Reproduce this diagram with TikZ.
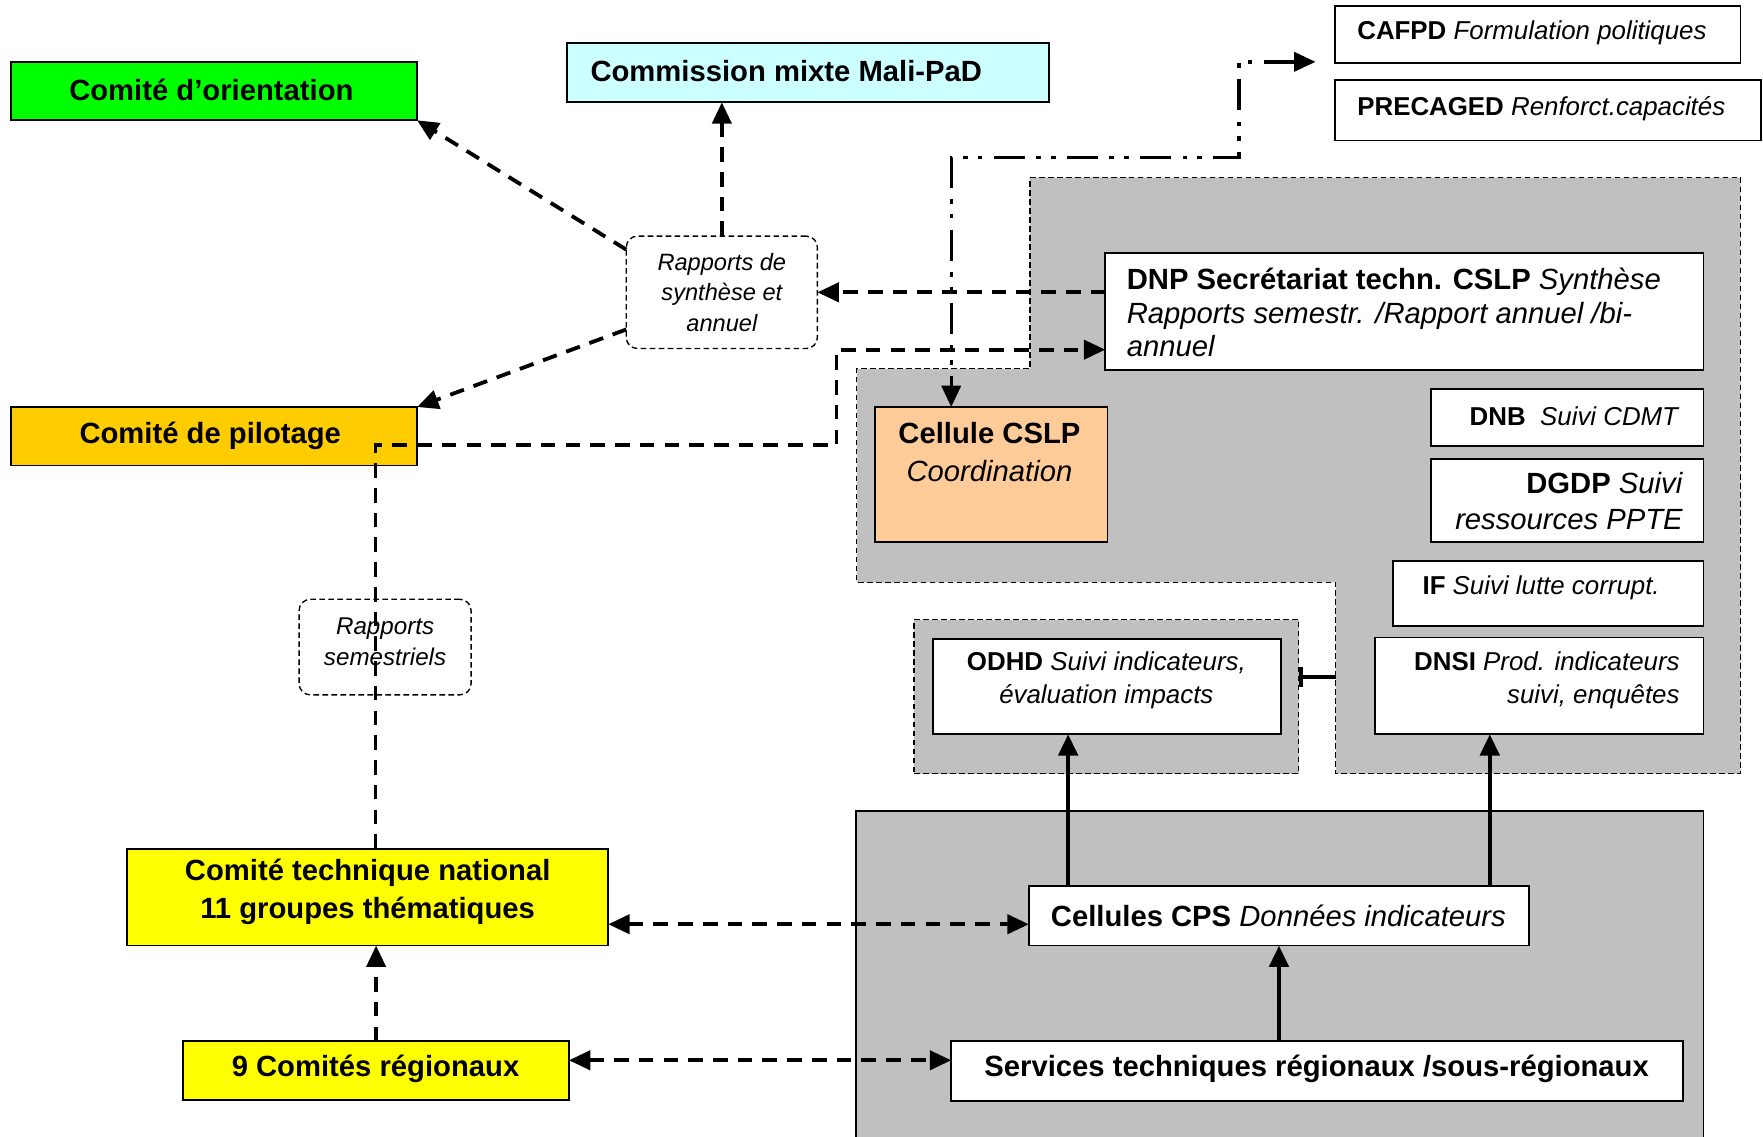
\documentclass[tikz,border=0pt]{standalone}
\usepackage{fontspec}
\setmainfont{Liberation Sans}
\usetikzlibrary{arrows.meta,calc}
\definecolor{cgreen}{HTML}{00FF00}
\definecolor{ccyan}{HTML}{CCFFFF}
\definecolor{cpilot}{HTML}{FFCC00}
\definecolor{cyell}{HTML}{FFFF00}
\definecolor{corange}{HTML}{FFCC99}
\definecolor{cgrey}{HTML}{C0C0C0}
\begin{document}
\begin{tikzpicture}[x=1pt,y=-1pt,
  >={Triangle[length=19pt,width=17pt]},
  box/.style={draw, line width=1.6pt, inner sep=0pt, outer sep=0pt, anchor=north west},
  region/.style={draw, fill=cgrey, line width=1.2pt, dash pattern=on 5pt off 3pt},
  rbox/.style={draw, line width=1.2pt, dash pattern=on 5pt off 3pt, rounded corners=10pt, inner sep=0pt, outer sep=0pt, anchor=north west},
  bigt/.style={font=\fontsize{26}{32}\selectfont, inner sep=0pt},
  medt/.style={font=\fontsize{23}{29}\selectfont, inner sep=0pt},
  smt/.style={font=\fontsize{21}{27}\selectfont\itshape, inner sep=0pt, align=center},
  dconn/.style={line width=3.4pt, dash pattern=on 13pt off 9pt},
  sconn/.style={line width=4pt},
  ddconn/.style={line width=3pt, dash pattern=on 28pt off 10pt on 4pt off 9pt on 4pt off 10pt}
]
\clip (0,0) rectangle (1568,1011);
\fill[white] (0,0) rectangle (1568,1011);

% grey regions
\draw[region] (916,158) -- (1548,158) -- (1548,688) -- (1188,688) -- (1188,518) -- (762,518) -- (762,328) -- (916,328) -- cycle;
\node[box, region, minimum width=342pt, minimum height=137pt] (odhdreg) at (813,551) {};
\node[box, fill=cgrey, line width=1.6pt, minimum width=754pt, minimum height=330pt] (lowreg) at (761,721) {};

% boxes
\node[box, fill=cgreen, minimum width=361pt, minimum height=52pt] (orient) at (10,55) {};
\node[box, fill=ccyan, minimum width=429pt, minimum height=53pt] (commis) at (504,38) {};
\node[box, fill=white, minimum width=361pt, minimum height=51pt] (cafpd) at (1187,5) {};
\node[box, fill=white, minimum width=379pt, minimum height=54pt] (preca) at (1187,71) {};
\node[box, fill=cpilot, minimum width=361pt, minimum height=52pt] (pilot) at (10,362) {};
\node[box, fill=cyell, minimum width=428pt, minimum height=86pt] (ctn) at (113,755) {};
\node[box, fill=cyell, minimum width=343pt, minimum height=52pt] (creg) at (163,926) {};
\node[box, fill=white, minimum width=532pt, minimum height=104pt] (dnp) at (983,225) {};
\node[box, fill=corange, minimum width=207pt, minimum height=120pt] (cell) at (778,362) {};
\node[box, fill=white, minimum width=242pt, minimum height=51pt] (dnb) at (1273,346) {};
\node[box, fill=white, minimum width=242pt, minimum height=74pt] (dgdp) at (1273,408) {};
\node[box, fill=white, minimum width=276pt, minimum height=58pt] (iff) at (1239,499) {};
\node[box, fill=white, minimum width=292pt, minimum height=86pt] (dnsi) at (1223,567) {};
\node[box, fill=white, minimum width=309pt, minimum height=85pt] (odhd) at (830,568) {};
\node[box, fill=white, minimum width=445pt, minimum height=53pt] (cps) at (915,788) {};
\node[box, fill=white, minimum width=651pt, minimum height=53pt] (stech) at (846,926) {};
\node[rbox, fill=white, minimum width=170pt, minimum height=100pt] (rsyn) at (557,210) {};
\node[rbox, minimum width=153pt, minimum height=85pt] (rsem) at (266,533) {};

% connectors
\coordinate (rs1) at (557,222);
\coordinate (rs2) at (557,293);
\draw[dconn,->] (rs1) -- (orient.south east);
\draw[dconn,->] (rs2) -- (pilot.north east);
\draw[dconn,->] (rsyn.north) -- (rsyn.north |- commis.south);
\draw[dconn,->] (dnp.west |- rsyn.east) -- (rsyn.east);

\coordinate (p1) at (334,396);
\coordinate (p2) at (744,396);
\coordinate (p3) at (744,311);
\draw[dconn,->] (ctn.north -| p1) -- (p1) -- (p2) -- (p3) -- (dnp.west |- p3);

\coordinate (q1) at (846,140);
\coordinate (q2) at (1102,140);
\coordinate (q3) at (1102,55);
\coordinate (q4) at ($(cafpd.west |- q3)+(-17,0)$);
\draw[ddconn,<->] (q4) -- (q3) -- (q2) -- (q1) -- (cell.north -| q1);

\coordinate (regB) at (1188,602);
\draw[line width=3.5pt,-{Bar[width=18pt,line width=4pt]}] (regB) -- (odhdreg.east |- regB);

\coordinate (v1) at (950,0);
\coordinate (v2) at (1325,0);
\draw[sconn,->] (cps.north -| v1) -- (odhd.south -| v1);
\draw[sconn,->] (cps.north -| v2) -- (dnsi.south -| v2);
\draw[sconn,->] (stech.north -| cps.south) -- (cps.south);

\coordinate (h1) at (0,822);
\coordinate (h2) at (0,943);
\draw[dconn,<->] (ctn.east |- h1) -- (cps.west |- h1);
\draw[dconn,<->] (creg.east |- h2) -- (stech.west |- h2);
\draw[dconn,->] (creg.north) -- (creg.north |- ctn.south);

% texts
\node[bigt] (t-orient) at (188,80) {\bfseries Comité d’orientation};
\node[bigt, anchor=west] (t-commis) at (525,63) {\bfseries Commission mixte Mali-PaD};
\node[medt, anchor=west] (t-cafpd) at (1207,29) {\textbf{CAFPD} \textit{Formulation politiques}};
\node[medt, anchor=west] (t-preca) at (1207,97) {\textbf{PRECAGED} \textit{Renforct.capacités}};
\node[bigt] (t-pilot) at (187,388) {\bfseries Comité de pilotage};
\node[bigt, align=center, font=\fontsize{26}{34}\selectfont\bfseries] (t-ctn) at (327,793) {Comité technique national\\11 groupes thématiques};
\node[bigt] (t-creg) at (334,951) {\bfseries 9 Comités régionaux};
\node[bigt, anchor=west, align=left, font=\fontsize{26}{30}\selectfont] (t-dnp) at (1002,278) {\textbf{DNP Secrétariat techn. CSLP} \textit{Synthèse}\\\textit{Rapports semestr. /Rapport annuel /bi-}\\\textit{annuel}};
\node[bigt, align=center, font=\fontsize{26}{34}\selectfont] (t-cell) at (880,402) {\textbf{Cellule CSLP}\\\textit{Coordination}};
\node[medt, anchor=east] (t-dnb) at (1494,370) {\textbf{DNB}\ \ \textit{Suivi CDMT}};
\node[bigt, anchor=east, align=right] (t-dgdp) at (1497,446) {\textbf{DGDP} \textit{Suivi}\\\textit{ressources PPTE}};
\node[medt, anchor=west] (t-iff) at (1265,523) {\textbf{IF} \textit{Suivi lutte corrupt.}};
\node[medt, anchor=east, align=right] (t-dnsi) at (1494,605) {\textbf{DNSI} \textit{Prod. indicateurs}\\\textit{suivi, enquêtes}};
\node[medt, align=center] (t-odhd) at (984,605) {\textbf{ODHD} \textit{Suivi indicateurs,}\\\textit{évaluation impacts}};
\node[bigt] (t-cps) at (1137,815) {\textbf{Cellules CPS} \textit{Données indicateurs}};
\node[bigt] (t-stech) at (1171,951) {\bfseries Services techniques régionaux /sous-régionaux};
\node[smt] (t-rsyn) at (rsyn.center) {Rapports de\\synthèse et\\annuel};
\node[smt, font=\fontsize{21.5}{28}\selectfont\itshape] (t-rsem) at (342.5,571) {Rapports\\semestriels};
\end{tikzpicture}
\end{document}
